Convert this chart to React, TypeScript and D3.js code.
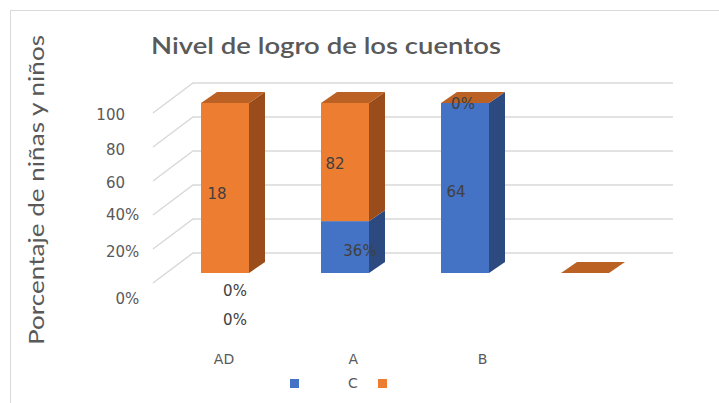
import * as d3 from 'd3';

const categories = ['AD', 'A', 'B', 'C'];
const categoryLabels = ['AD', 'A', 'B', ''];
const blueValues = [0, 36, 64, 0];
const orangeValues = [18, 82, 0, 0];
const blueLabels = ['0%', '36%', '64', ''];
const orangeLabels = ['18', '82', '0%', ''];
const extraLabels = [{ cat: 'AD', text: '0%' }];
const tickValues = [0, 20, 40, 60, 80, 100];
const tickLabels = ['0', '20', '40', '60', '80', '100'];
const tickSuffix = ['%', '%', '%', '', '', ''];
const legendNames = ['', 'C'];

const W = 719;
const H = 403;
const FLOOR = 20; // bars sit this far below the back wall
const DEPTH = { dx: 16, dy: -11 };
const SIDE = { dx: -40, dy: 30 };

const ORANGE = { front: '#ED7D31', side: '#9A4C1B', top: '#BC6124' };
const BLUE = { front: '#4472C4', side: '#2C4A80', top: '#3A62A8' };

// label nudges (dx, dy) per series / category index
const blueNudge = [[10, 18], [15, 4], [-9, 4], [0, 0]];
const orangeNudge = [[-8, 6], [-10, 2], [-2, 1], [0, 0]];
const tickNudge = [16, 3, 0, 2, 3, 2];

export default function App() {
  const y = d3.scaleLinear().domain([0, 100]).range([253, 83]);
  const x = d3.scaleBand().domain(categories).range([165, 645]).paddingInner(0.6).paddingOuter(0.3);
  const labelX = d3.scalePoint().domain(categories).range([224, 612]);
  const backLeft = 193;
  const backRight = 673;
  const font = 'DejaVu Sans, sans-serif';

  const face = (pts: [number, number][]) => 'M' + pts.map(p => p.join(',')).join('L') + 'Z';

  const bars = categories.map((c, i) => {
    const total = blueValues[i] + orangeValues[i];
    const pb = total ? (blueValues[i] / total) * 100 : 0;
    const po = total ? (orangeValues[i] / total) * 100 : 0;
    const x0 = x(c)!;
    const x1 = x0 + x.bandwidth();
    const segs = [
      { lo: 0, hi: pb, col: BLUE, label: blueLabels[i], nudge: blueNudge[i] },
      { lo: pb, hi: pb + po, col: ORANGE, label: orangeLabels[i], nudge: orangeNudge[i] },
    ].map(s => ({ ...s, yb: y(s.lo) + FLOOR, yt: y(s.hi) + FLOOR }));
    return { c, i, x0, x1, segs };
  });

  return (
    <svg width={W} height={H} style={{ position: 'absolute', left: 0, top: 0, background: '#fff' }}>
      <rect x={10.5} y={10.5} width={720} height={400} fill="none" stroke="#d9d9d9" />
      <text x={326} y={45} textAnchor="middle" dominantBaseline="central" fontFamily="Lato, sans-serif"
        fontSize={23} fill="#595959" textLength={350} lengthAdjust="spacingAndGlyphs" fontWeight={600}>
        Nivel de logro de los cuentos
      </text>
      <text transform="translate(35,190) rotate(-90)" textAnchor="middle" dominantBaseline="central"
        fontFamily="Lato, sans-serif" fontSize={22} fill="#595959" textLength={310} lengthAdjust="spacingAndGlyphs">
        Porcentaje de niñas y niños
      </text>

      {tickValues.map((v, i) => (
        <g key={v}>
          <path d={`M${backRight},${y(v)}L${backLeft},${y(v)}L${backLeft + SIDE.dx},${y(v) + SIDE.dy}`}
            fill="none" stroke="#d9d9d9" strokeWidth={1.5} />
          <text x={125} y={y(v) + SIDE.dy + tickNudge[i]} textAnchor="end" dominantBaseline="central"
            fontFamily={font} fontSize={15} fill="#595959">{tickLabels[i]}</text>
          <text x={125} y={y(v) + SIDE.dy + tickNudge[i]} dominantBaseline="central"
            fontFamily={font} fontSize={15} fill="#595959">{tickSuffix[i]}</text>
        </g>
      ))}

      {bars.map(b => (
        <g key={b.c}>
          {b.segs.map((s, k) => (
            <g key={k}>
              {s.hi > s.lo && <rect x={b.x0} y={s.yt} width={b.x1 - b.x0} height={s.yb - s.yt} fill={s.col.front} />}
              {s.hi > s.lo && <path d={face([[b.x1, s.yb], [b.x1, s.yt], [b.x1 + DEPTH.dx, s.yt + DEPTH.dy], [b.x1 + DEPTH.dx, s.yb + DEPTH.dy]])} fill={s.col.side} />}
            </g>
          ))}
          {(() => {
            const top = b.segs[b.segs.length - 1];
            return <path d={face([[b.x0, top.yt], [b.x1, top.yt], [b.x1 + DEPTH.dx, top.yt + DEPTH.dy], [b.x0 + DEPTH.dx, top.yt + DEPTH.dy]])} fill={top.col.top} />;
          })()}
          {b.segs.map((s, k) => s.label && (
            <text key={'l' + k} x={(b.x0 + b.x1) / 2 + s.nudge[0]} y={(s.yt + s.yb) / 2 + s.nudge[1]}
              textAnchor="middle" dominantBaseline="central" fontFamily={font} fontSize={15} fill="#404040">
              {s.label}
            </text>
          ))}
        </g>
      ))}

      {extraLabels.map((l, i) => (
        <text key={i} x={x(l.cat)! + x.bandwidth() / 2 + 10} y={y(0) + FLOOR + 47} textAnchor="middle"
          dominantBaseline="central" fontFamily={font} fontSize={15} fill="#404040">{l.text}</text>
      ))}

      {categories.map((c, i) => (
        <text key={c} x={labelX(c)} y={359} textAnchor="middle" dominantBaseline="central"
          fontFamily={font} fontSize={14} fill="#595959">{categoryLabels[i]}</text>
      ))}

      <rect x={290} y={379} width={9} height={9} fill={BLUE.front} />
      <text x={348} y={383} dominantBaseline="central" fontFamily={font} fontSize={14} fill="#595959">{legendNames[1]}</text>
      <rect x={378} y={379} width={9} height={9} fill={ORANGE.front} />
    </svg>
  );
}
